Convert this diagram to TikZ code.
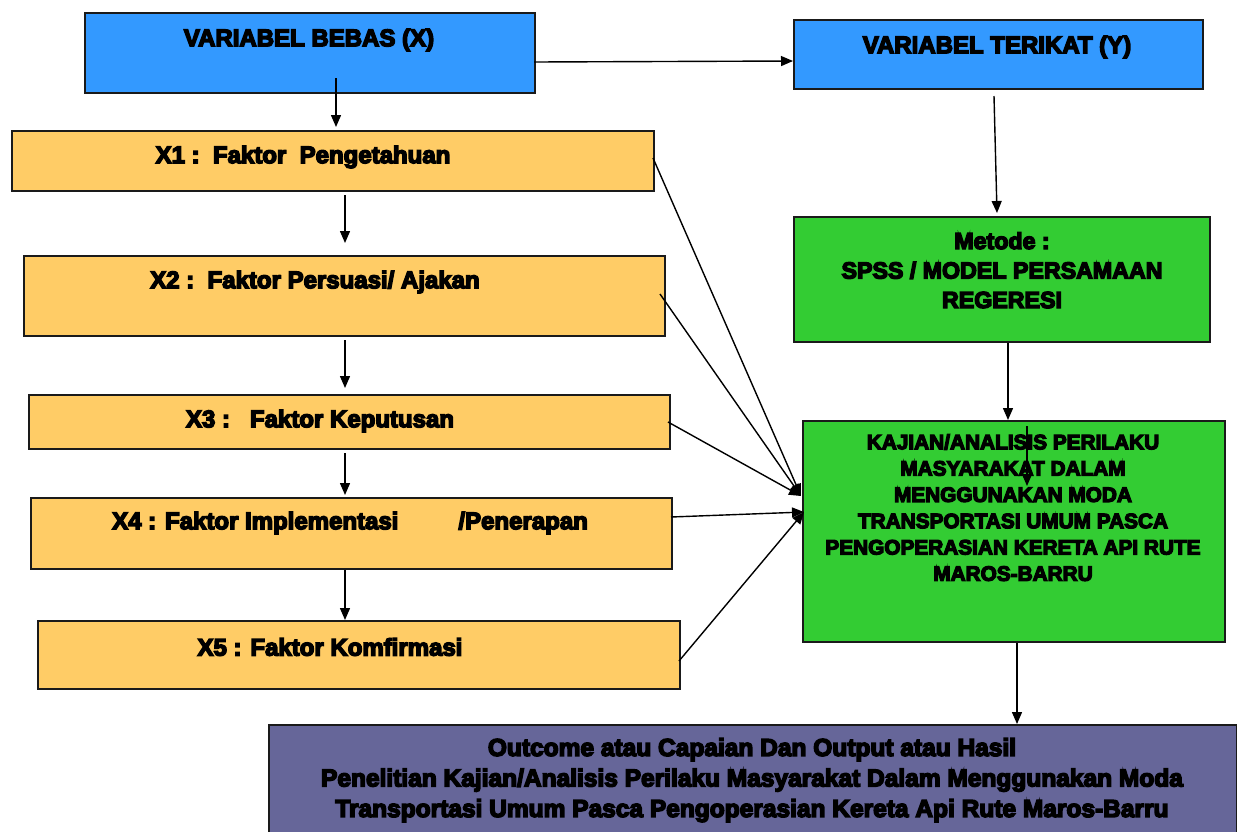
\documentclass[tikz,border=0pt]{standalone}
\usepackage{fontspec}
\setmainfont{Liberation Sans}[BoldFeatures={FakeBold=6}]
\usetikzlibrary{arrows.meta,calc}
\definecolor{cblue}{HTML}{3399FF}
\definecolor{corange}{HTML}{FFCC66}
\definecolor{cgreen}{HTML}{33CC33}
\definecolor{cpurple}{HTML}{666699}
\definecolor{cline}{HTML}{1A1A1A}
\tikzset{
  box/.style={draw=cline,line width=1.8pt,rectangle,inner sep=0pt,anchor=north west},
  lbl/.style={font=\fontsize{24}{28}\selectfont\bfseries,text=black,inner sep=0pt,align=center},
  lblk/.style={font=\fontsize{20.8}{26.3}\selectfont\bfseries,text=black,inner sep=0pt,align=center},
  lblm/.style={font=\fontsize{23.2}{29.5}\selectfont\bfseries,text=black,inner sep=0pt,align=center},
  lblb/.style={font=\fontsize{24.5}{30.5}\selectfont\bfseries,text=black,inner sep=0pt,align=center},
  arr/.style={draw=black,line width=1.4pt,-{Triangle[length=12pt,width=10pt]}},
}
\begin{document}
\begin{tikzpicture}[x=1pt,y=-1pt]
\useasboundingbox (0,0) rectangle (1237,831);
\clip (0,0) rectangle (1237,831);
% boxes
\node[box,fill=cblue,minimum width=450pt,minimum height=80pt] (bebas) at (84,12) {};
\node[box,fill=cblue,minimum width=409pt,minimum height=69pt] (terikat) at (793,19) {};
\node[box,fill=corange,minimum width=642pt,minimum height=60pt] (x1) at (11,130) {};
\node[box,fill=corange,minimum width=641pt,minimum height=80pt] (x2) at (23,255) {};
\node[box,fill=corange,minimum width=641pt,minimum height=54pt] (x3) at (28,394) {};
\node[box,fill=corange,minimum width=641pt,minimum height=71pt] (x4) at (30,497) {};
\node[box,fill=corange,minimum width=642pt,minimum height=68pt] (x5) at (37,620) {};
\node[box,fill=cgreen,minimum width=416pt,minimum height=125pt] (metode) at (793,216) {};
\node[box,fill=cgreen,minimum width=422pt,minimum height=221pt] (kajian) at (802,420) {};
\node[box,fill=cpurple,minimum width=968pt,minimum height=130pt] (hasil) at (268,724) {};
% labels
\node[lbl] (tbebas) at (309,40) {VARIABEL BEBAS (X)};
\node[lbl] (tterikat) at (997,47) {VARIABEL TERIKAT (Y)};
\node[lbl] (tx1) at (303,157) {X1 :\ \ Faktor\ \ Pengetahuan};
\node[lbl] (tx2) at (315,282) {X2 :\ \ Faktor Persuasi/ Ajakan};
\node[lbl] (tx3) at (320,421) {X3 :\ \ \ Faktor Keputusan};
\node[lbl] (tx4) at (350,523) {X4 : Faktor Implementasi\hspace{60pt}/Penerapan};
\node[lbl] (tx5) at (330,647) {X5 : Faktor Komfirmasi};
\node[lblm,anchor=north] (tmetode) at (1002,232) {Metode :\\SPSS / MODEL PERSAMAAN\\REGERESI};
\node[lblk,anchor=north] (tkajian) at (1013,434) {KAJIAN/ANALISIS PERILAKU\\MASYARAKAT DALAM\\MENGGUNAKAN MODA\\TRANSPORTASI UMUM PASCA\\PENGOPERASIAN KERETA API RUTE\\MAROS-BARRU};
\node[lblb,anchor=north] (thasil) at (752,738) {Outcome atau Capaian Dan Output atau Hasil\\Penelitian Kajian/Analisis Perilaku Masyarakat Dalam Menggunakan Moda\\Transportasi Umum Pasca Pengoperasian Kereta Api Rute Maros-Barru};
% coordinates
\coordinate (bebasout) at (534,62);
\coordinate (terin) at (793,61);
\coordinate (bebasin) at (336,78);
\coordinate (x1top) at (336,127);
\coordinate (x1out) at (345,195);
\coordinate (x2top) at (345,243);
\coordinate (x2out) at (345,340);
\coordinate (x3top) at (345,388);
\coordinate (x3out) at (345,453);
\coordinate (x4top) at (345,495);
\coordinate (terout) at (994,96);
\coordinate (mettop) at (997,213);
\coordinate (kajin1) at (1027,426);
\coordinate (kajin2) at (1027,486);
\coordinate (tipA) at (801,496);
\coordinate (tipB) at (804,512);
\coordinate (x1e) at (653,158);
\coordinate (x2e) at (660,294);
\coordinate (x3e) at (668,422);
\coordinate (x4e) at (671,517);
\coordinate (x5e) at (679,661);
% connectors
\draw[arr] (bebasout) -- (terin);
\draw[arr] (bebasin) -- (x1top);
\draw[arr] (x1out) -- (x2top);
\draw[arr] (x2out) -- (x3top);
\draw[arr] (x3out) -- (x4top);
\draw[arr] (x4.south -| x4top) -- (x5.north -| x4top);
\draw[arr] (terout) -- (mettop);
\draw[arr] (metode.south -| 1008,0) -- (kajian.north -| 1008,0);
\draw[arr] (kajin1) -- (kajin2);
\draw[arr] (kajian.south -| 1017,0) -- (hasil.north -| 1017,0);
\draw[arr] (x1e) -- (tipA);
\draw[arr] (x2e) -- (tipA);
\draw[arr] (x3e) -- (tipA);
\draw[arr] (x4e) -- (tipB);
\draw[arr] (x5e) -- (tipB);
\end{tikzpicture}
\end{document}
